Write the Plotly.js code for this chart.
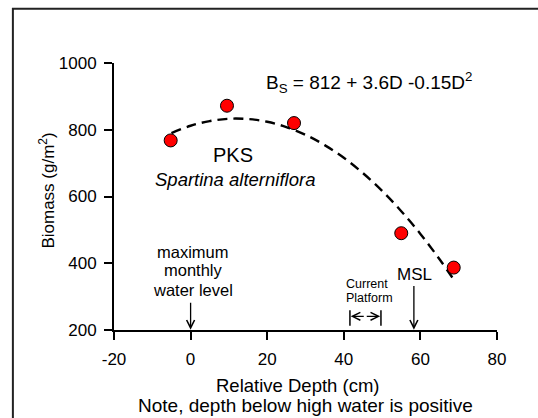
<!DOCTYPE html>
<html>
<head>
<meta charset="utf-8">
<script src="https://cdn.plot.ly/plotly-3.0.1.min.js"></script>
<style>
html,body{margin:0;padding:0;background:#fff;}
#chart{width:538px;height:418px;}
</style>
</head>
<body>
<div id="chart"></div>
<script>
var depth = [-5.2, 9.5, 27, 55, 68.7];
var biomass = [768, 872, 820, 490, 387];

// Fitted curve
var fitDepth = [-5, 0, 5, 10, 15, 20, 25, 30, 35, 40, 45, 50, 55, 60, 65, 69];
var fitBiomass = [790, 812, 826, 833, 832, 824, 808, 785, 754, 716, 670, 617, 556, 488, 412, 346];

// Axis ticks
var xTicks = [-20, 0, 20, 40, 60, 80];
var yTicks = [200, 400, 600, 800, 1000];

var FONT = 'Liberation Sans, Arial, sans-serif';

var traces = [
  {
    x: fitDepth, y: fitBiomass, type: 'scatter', mode: 'lines',
    line: {color: '#000', width: 2.4, dash: '10px,6px', shape: 'spline'},
    hoverinfo: 'skip', showlegend: false
  },
  {
    x: depth, y: biomass, type: 'scatter', mode: 'markers',
    marker: {color: '#ff0000', size: 13, line: {color: '#000', width: 1}},
    showlegend: false
  }
];

function txt(x, y, text, size, opts) {
  var a = {x: x, y: y, xref: 'x', yref: 'y', text: text, showarrow: false,
           font: {family: FONT, size: size, color: '#000'}, xanchor: 'center', yanchor: 'middle'};
  for (var k in opts) a[k] = opts[k];
  return a;
}
function arrow(x0, y0, x1, y1, head) {
  return {x: x1, y: y1, ax: x0, ay: y0, xref: 'x', yref: 'y', axref: 'x', ayref: 'y',
          text: '', showarrow: true, arrowhead: head, arrowsize: 1.2, arrowwidth: 1.3,
          arrowcolor: '#000', standoff: 0, startstandoff: 0};
}

var annotations = [
  txt(19.1, 942, 'B<sub>S</sub> = 812 + 3.6D -0.15D<sup>2</sup>', 19, {xanchor: 'left'}),
  txt(11.0, 724, 'PKS', 20),
  txt(11.5, 650, '<i>Spartina alterniflora</i>', 18.5),
  txt(0.7, 434, 'maximum', 16.5),
  txt(0.7, 379, 'monthly', 16.5),
  txt(0.7, 320, 'water level', 16.5),
  txt(58.5, 366, 'MSL', 17),
  txt(40.0, 339, 'Current', 12.5, {xanchor: 'left'}),
  txt(40.0, 297, 'Platform', 12.5, {xanchor: 'left'}),
  arrow(0, 286, 0, 201, 5),
  arrow(58.3, 336, 58.3, 201, 5),
  arrow(45.6, 241, 41.8, 241, 5),
  arrow(45.6, 241, 49.5, 241, 5),
  {x: 0.48, y: -0.207, xref: 'paper', yref: 'paper', xanchor: 'center', yanchor: 'middle',
   text: 'Relative Depth (cm)', showarrow: false,
   font: {family: FONT, size: 18.5, color: '#000'}},
  {x: 0.4999, y: -0.281, xref: 'paper', yref: 'paper', xanchor: 'center', yanchor: 'middle',
   text: 'Note, depth below high water is positive', showarrow: false,
   font: {family: FONT, size: 19, color: '#000'}},
  {x: -0.175, y: 0.522, xref: 'paper', yref: 'paper', xanchor: 'center', yanchor: 'middle',
   text: 'Biomass (g/m<sup>2</sup>)', showarrow: false,
   textangle: -90, font: {family: FONT, size: 17, color: '#000'}}
];

var shapes = [
  {type: 'line', xref: 'x', yref: 'y', x0: 41.6, x1: 41.6, y0: 213, y1: 259, line: {color: '#000', width: 1.5}},
  {type: 'line', xref: 'x', yref: 'y', x0: 49.7, x1: 49.7, y0: 213, y1: 259, line: {color: '#000', width: 1.5}},
  {type: 'rect', xref: 'paper', yref: 'paper', x0: -0.264, x1: 1.5, y0: -0.5, y1: 1.2036,
   line: {color: '#222', width: 2}, fillcolor: 'rgba(0,0,0,0)'}
];

var layout = {
  width: 538, height: 418,
  margin: {l: 114, r: 41, t: 63, b: 88},
  paper_bgcolor: '#fff', plot_bgcolor: '#fff',
  font: {family: FONT, size: 17, color: '#000'},
  xaxis: {
    range: [-20, 80], tickvals: xTicks, ticktext: xTicks.map(String),
    showgrid: false, zeroline: false, showline: true, linecolor: '#000', linewidth: 2,
    ticks: 'outside', ticklen: 8, tickwidth: 2, tickcolor: '#000',
    tickfont: {family: FONT, size: 17, color: '#000'}, ticklabelstandoff: 5
  },
  yaxis: {
    range: [200, 1000], tickvals: yTicks, ticktext: yTicks.map(String),
    showgrid: false, zeroline: false, showline: true, linecolor: '#000', linewidth: 2,
    ticks: 'outside', ticklen: 8, tickwidth: 2, tickcolor: '#000',
    tickfont: {family: FONT, size: 17, color: '#000'}, ticklabelstandoff: 4
  },
  annotations: annotations,
  shapes: shapes,
  showlegend: false
};

Plotly.newPlot('chart', traces, layout, {displayModeBar: false, staticPlot: true});
</script>
</body>
</html>
